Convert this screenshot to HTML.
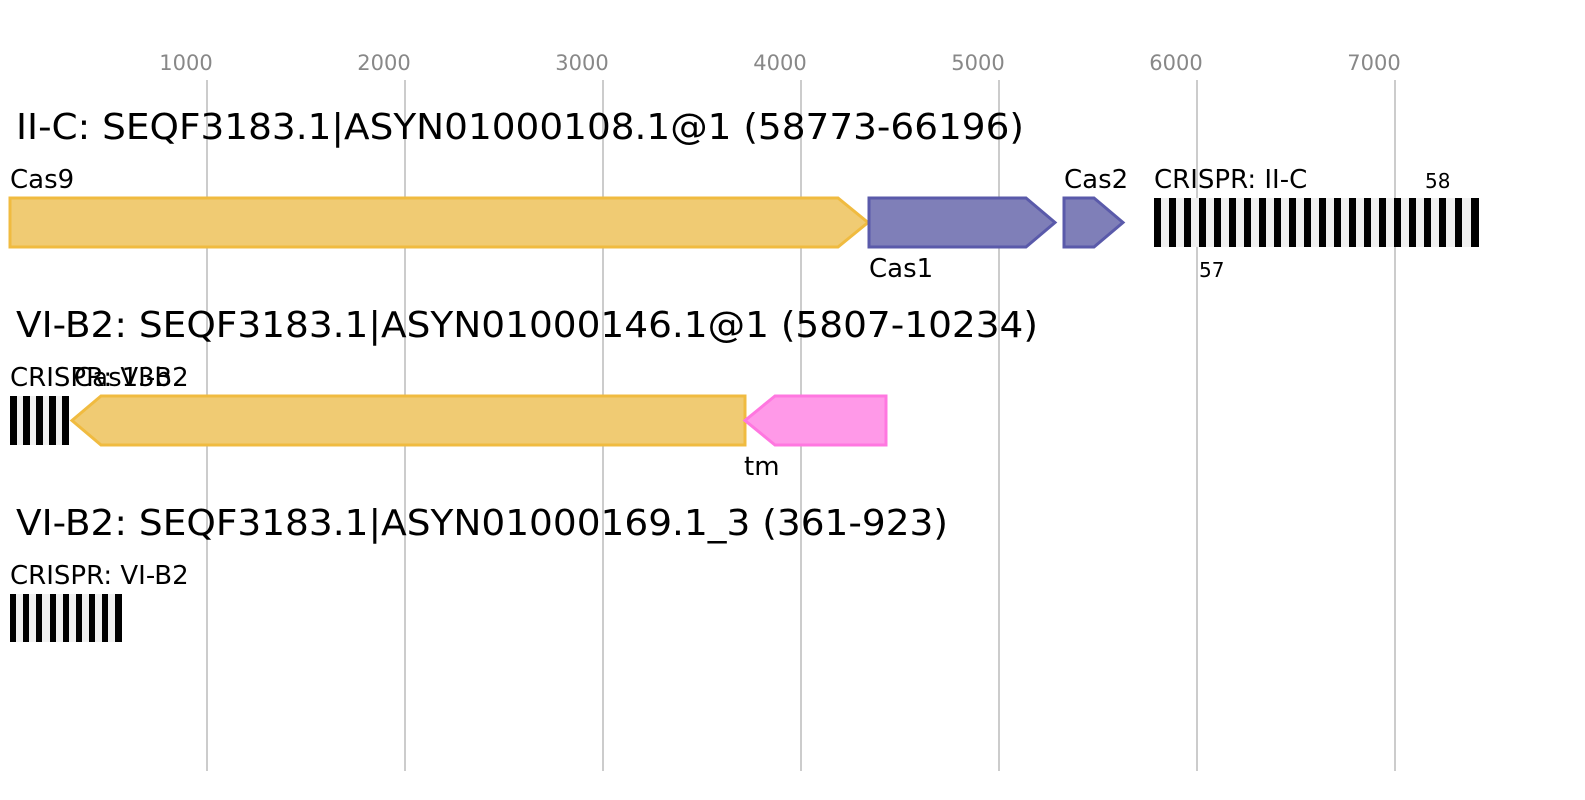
<!DOCTYPE html>
<html><head><meta charset="utf-8"><style>
html,body{margin:0;padding:0;background:#fff;width:1585px;height:800px;overflow:hidden}
text{font-family:"DejaVu Sans","Liberation Sans",sans-serif}
</style></head><body>
<svg width="1585" height="800" xmlns="http://www.w3.org/2000/svg">
<g stroke="#bbb" stroke-width="1.5">
<line x1="207" y1="80" x2="207" y2="771"/><line x1="405" y1="80" x2="405" y2="771"/>
<line x1="603" y1="80" x2="603" y2="771"/><line x1="801" y1="80" x2="801" y2="771"/>
<line x1="999" y1="80" x2="999" y2="771"/><line x1="1197" y1="80" x2="1197" y2="771"/>
<line x1="1395" y1="80" x2="1395" y2="771"/>
</g>
<g fill="#888" font-size="21" text-anchor="middle">
<text x="186" y="70">1000</text><text x="384" y="70">2000</text><text x="582" y="70">3000</text>
<text x="780" y="70">4000</text><text x="978" y="70">5000</text><text x="1176" y="70">6000</text>
<text x="1374" y="70">7000</text>
</g>
<g fill="#000" font-size="36">
<text x="16" y="139" textLength="1008" lengthAdjust="spacingAndGlyphs">II-C: SEQF3183.1|ASYN01000108.1@1 (58773-66196)</text>
<text x="16" y="337" textLength="1022" lengthAdjust="spacingAndGlyphs">VI-B2: SEQF3183.1|ASYN01000146.1@1 (5807-10234)</text>
<text x="16" y="535" textLength="932" lengthAdjust="spacingAndGlyphs">VI-B2: SEQF3183.1|ASYN01000169.1_3 (361-923)</text>
</g>
<polygon points="10,198 838,198 868,222.5 838,247 10,247" fill="#f0cb73" stroke="#f0bb40" stroke-width="3"/>
<polygon points="869,198 1026,198 1055,222.5 1026,247 869,247" fill="#7f7fb8" stroke="#5a5aaa" stroke-width="3"/>
<polygon points="1064,198 1094,198 1123,222.5 1094,247 1064,247" fill="#7f7fb8" stroke="#5a5aaa" stroke-width="3"/>
<rect x="1154" y="198" width="325" height="49" fill="#f0f0f0"/>
<g fill="#000">
<rect x="1154" y="198" width="7" height="49"/><rect x="1169" y="198" width="7" height="49"/><rect x="1184" y="198" width="7" height="49"/><rect x="1199" y="198" width="7" height="49"/><rect x="1214" y="198" width="7" height="49"/><rect x="1229" y="198" width="7" height="49"/><rect x="1244" y="198" width="7" height="49"/><rect x="1259" y="198" width="7" height="49"/><rect x="1274" y="198" width="7" height="49"/><rect x="1289" y="198" width="7" height="49"/><rect x="1304" y="198" width="7" height="49"/><rect x="1319" y="198" width="7" height="49"/><rect x="1334" y="198" width="7" height="49"/><rect x="1349" y="198" width="7" height="49"/><rect x="1364" y="198" width="7" height="49"/><rect x="1379" y="198" width="7" height="49"/><rect x="1394" y="198" width="7" height="49"/><rect x="1409" y="198" width="7" height="49"/><rect x="1424" y="198" width="7" height="49"/><rect x="1439" y="198" width="7" height="49"/><rect x="1455" y="198" width="7" height="49"/><rect x="1471" y="198" width="8" height="49"/>
</g>
<g fill="#000" font-size="26">
<text x="10" y="188">Cas9</text><text x="869" y="277">Cas1</text><text x="1064" y="188">Cas2</text>
<text x="1154" y="188">CRISPR: II-C</text>
<text x="10" y="386">CRISPR: VI-B2</text><text x="74" y="386">Cas13b</text>
<text x="744" y="475">tm</text><text x="10" y="584">CRISPR: VI-B2</text>
</g>
<g fill="#000" font-size="20"><text x="1425" y="188">58</text><text x="1199" y="277">57</text></g>
<rect x="10" y="396" width="59" height="49" fill="#f0f0f0"/>
<g fill="#000"><rect x="10" y="396" width="7" height="49"/><rect x="23" y="396" width="7" height="49"/><rect x="36" y="396" width="7" height="49"/><rect x="49" y="396" width="7" height="49"/><rect x="62" y="396" width="7" height="49"/></g>
<polygon points="745,396 101,396 72,420.5 101,445 745,445" fill="#f0cb73" stroke="#f0bb40" stroke-width="3"/>
<polygon points="886,396 775,396 745,420.5 775,445 886,445" fill="#ff99e8" stroke="#ff77e0" stroke-width="3"/>
<rect x="10" y="594" width="112" height="48" fill="#f0f0f0"/>
<g fill="#000"><rect x="10" y="594" width="6" height="48"/><rect x="23" y="594" width="6" height="48"/><rect x="36" y="594" width="6" height="48"/><rect x="50" y="594" width="6" height="48"/><rect x="63" y="594" width="6" height="48"/><rect x="76" y="594" width="6" height="48"/><rect x="89" y="594" width="6" height="48"/><rect x="102" y="594" width="6" height="48"/><rect x="115" y="594" width="7" height="48"/></g>
</svg>
</body></html>
